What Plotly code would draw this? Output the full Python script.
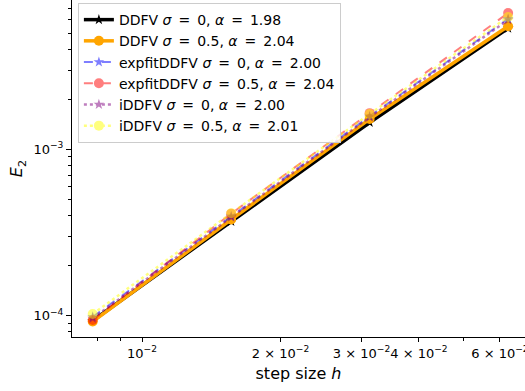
import plotly.graph_objects as go

# mesh step sizes
h = [1/128, 1/64, 1/32, 1/16]

# L2 errors of each scheme
ddfv_s0 = [9.3e-5, 3.68e-4, 1.45e-3, 5.35e-3]
ddfv_s05 = [9.2e-5, 3.78e-4, 1.52e-3, 5.5e-3]
expfit_s0 = [9.8e-5, 3.95e-4, 1.58e-3, 6.1e-3]
expfit_s05 = [9.4e-5, 4.1e-4, 1.65e-3, 6.6e-3]
iddfv_s0 = [9.6e-5, 3.9e-4, 1.56e-3, 6.0e-3]
iddfv_s05 = [1.02e-4, 4.12e-4, 1.63e-3, 6.25e-3]

EQ = "\u2002=\u2002"
labels = [
    f"DDFV <i>σ</i>{EQ}0, <i>α</i>{EQ}1.98",
    f"DDFV <i>σ</i>{EQ}0.5, <i>α</i>{EQ}2.04",
    f"expfitDDFV <i>σ</i>{EQ}0, <i>α</i>{EQ}2.00",
    f"expfitDDFV <i>σ</i>{EQ}0.5, <i>α</i>{EQ}2.04",
    f"iDDFV <i>σ</i>{EQ}0, <i>α</i>{EQ}2.00",
    f"iDDFV <i>σ</i>{EQ}0.5, <i>α</i>{EQ}2.01",
]

x_labeled = [1e-2, 2e-2, 3e-2, 4e-2, 6e-2]
x_ticktext = ["10<sup>−2</sup>", "2 × 10<sup>−2</sup>", "3 × 10<sup>−2</sup>",
              "4 × 10<sup>−2</sup>", "6 × 10<sup>−2</sup>"]
x_minor = [8e-3, 9e-3, 5e-2]
y_major = [1e-4, 1e-3]
y_ticktext = ["10<sup>−4</sup>", "10<sup>−3</sup>"]
y_minor = [k * 1e-5 for k in range(8, 10)] + [k * 1e-4 for k in range(2, 10)] + [k * 1e-3 for k in range(2, 8)]

styles = [
    dict(data=ddfv_s0, color="black", width=3.5, dash="solid", symbol="star", size=8, opacity=1.0),
    dict(data=ddfv_s05, color="orange", width=3.5, dash="solid", symbol="circle", size=10, opacity=1.0),
    dict(data=expfit_s0, color="blue", width=2, dash="dash", symbol="star", size=8, opacity=0.5),
    dict(data=expfit_s05, color="red", width=2, dash="dash", symbol="circle", size=10, opacity=0.5),
    dict(data=iddfv_s0, color="purple", width=2.5, dash="dot", symbol="star", size=8, opacity=0.5),
    dict(data=iddfv_s05, color="yellow", width=2.5, dash="dot", symbol="circle", size=10, opacity=0.5),
]

fig = go.Figure()
for lab, st in zip(labels, styles):
    fig.add_trace(go.Scatter(
        x=h, y=st["data"], name=lab, mode="lines+markers",
        line=dict(color=st["color"], width=st["width"], dash=st["dash"]),
        marker=dict(symbol=st["symbol"], size=st["size"], color=st["color"],
                    line=dict(width=0)),
        opacity=st["opacity"],
    ))

font = dict(family="DejaVu Sans", size=13, color="black")

fig.update_layout(
    width=525, height=391,
    margin=dict(l=72, r=0, t=0, b=54),
    paper_bgcolor="white", plot_bgcolor="white",
    font=font,
    showlegend=True,
    legend=dict(
        x=0.013, y=0.991, xanchor="left", yanchor="top",
        bgcolor="rgba(255,255,255,0.8)", bordercolor="#cccccc", borderwidth=1,
        font=dict(family="DejaVu Sans", size=14, color="black"),
        tracegroupgap=0, itemwidth=30,
    ),
    xaxis=dict(
        type="log", range=[-2.1522, -1.1674],
        showgrid=False, zeroline=False, automargin=False,
        showline=True, linecolor="black", linewidth=1, mirror=False,
        tickmode="array", tickvals=x_labeled, ticktext=x_ticktext, tickangle=0,
        ticklabeloverflow="allow",
        ticks="outside", ticklen=4, tickwidth=1, tickcolor="black",
        minor=dict(tickmode="array", tickvals=x_minor, ticks="outside",
                   ticklen=3, tickwidth=1, tickcolor="black", showgrid=False),
        title=dict(text="step size <i>h</i>", standoff=8),
        tickfont=font,
    ),
    yaxis=dict(
        type="log", range=[-4.1294, -2.1017],
        showgrid=False, zeroline=False, automargin=False,
        showline=True, linecolor="black", linewidth=1, mirror=False,
        tickmode="array", tickvals=y_major, ticktext=y_ticktext,
        ticks="outside", ticklen=5, tickwidth=1, tickcolor="black",
        minor=dict(tickmode="array", tickvals=y_minor, ticks="outside",
                   ticklen=3, tickwidth=1, tickcolor="black", showgrid=False),
        title=dict(text="<i>E</i><sub>2</sub>", standoff=6),
        tickfont=font,
    ),
)

fig.write_html("out.html")
